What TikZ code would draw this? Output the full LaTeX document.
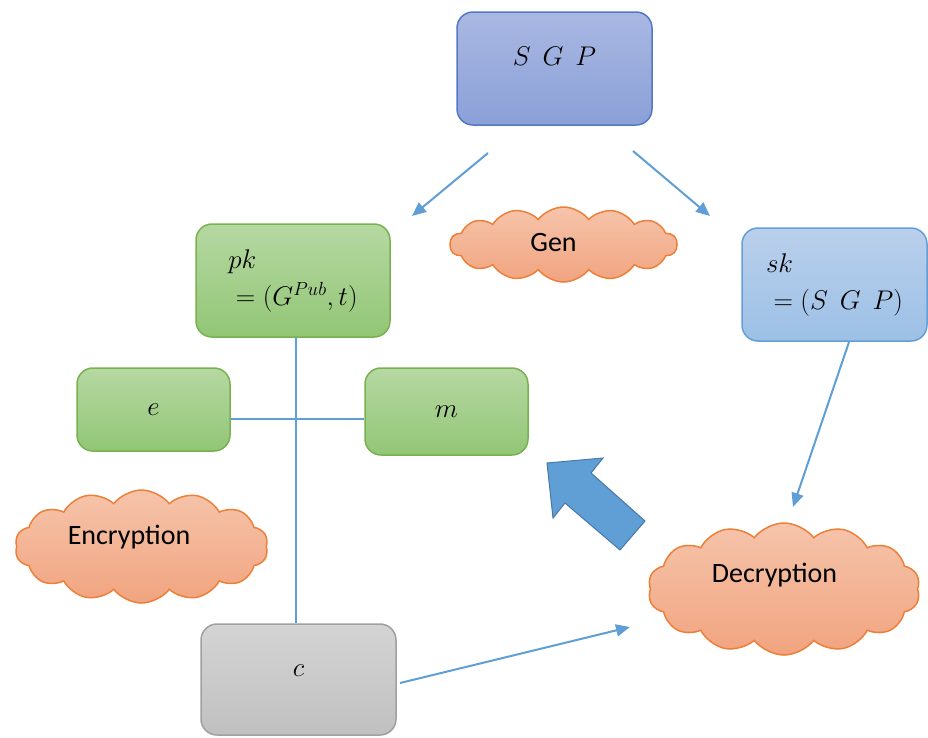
\documentclass[tikz,border=0pt]{standalone}
\usepackage{fix-cm}
\usepackage{fontspec}
\newfontfamily\calibri{Carlito}
\usepackage{tikz}
\usetikzlibrary{arrows.meta, shapes.symbols}
\definecolor{sgpline}{RGB}{84,120,196}
\definecolor{sgptop}{RGB}{170,184,226}
\definecolor{sgpbot}{RGB}{138,160,216}
\definecolor{greenline}{RGB}{120,178,80}
\definecolor{greentop}{RGB}{182,216,162}
\definecolor{greenbot}{RGB}{146,198,118}
\definecolor{skline}{RGB}{100,158,214}
\definecolor{sktop}{RGB}{186,208,236}
\definecolor{skbot}{RGB}{156,192,230}
\definecolor{grayline}{RGB}{160,160,160}
\definecolor{graytop}{RGB}{212,212,212}
\definecolor{graybot}{RGB}{192,192,192}
\definecolor{cloudline}{RGB}{237,128,56}
\definecolor{cloudtop}{RGB}{246,196,170}
\definecolor{cloudbot}{RGB}{241,164,128}
\definecolor{linkblue}{RGB}{96,158,214}
\definecolor{bigline}{RGB}{70,120,170}

\begin{document}
\begin{tikzpicture}[x=1pt,y=-1pt,>={Triangle[length=14pt,width=12pt]},
line width=1.5pt,
key node/.style={rectangle,rounded corners=16pt,draw,shading=axis,align=left,
font=\fontsize{27}{37}\selectfont},
sgp node/.style={key node,draw=sgpline,top color=sgptop,bottom color=sgpbot},
green node/.style={key node,draw=greenline,top color=greentop,bottom color=greenbot},
sk node/.style={key node,draw=skline,top color=sktop,bottom color=skbot},
gray node/.style={key node,draw=grayline,top color=graytop,bottom color=graybot},
cloud node/.style={cloud,cloud puffs=14,cloud puff arc=105,cloud ignores aspect,
draw=cloudline,shading=axis,top color=cloudtop,bottom color=cloudbot},
key text/.style={draw=none,font=\fontsize{27}{37}\selectfont},
cloud text/.style={draw=none,font=\calibri\fontsize{28}{34}\selectfont},
link/.style={draw=linkblue,line width=2pt}]
\useasboundingbox (0,0) rectangle (928,737);
\node[sgp node,minimum width=195pt,minimum height=113pt,
label={[key text,yshift=12pt]center:$S\:\:G\:\:P$}] (1) at (554.5, 68.5) {};
\node[green node,minimum width=194pt,minimum height=113pt] (2) at (293, 280.5) {$pk$\\${}=(G^{Pub},t)$};
\node[sk node,minimum width=185pt,minimum height=113pt] (3) at (834.5, 284.5) {$sk$\\${}=(S\:\:G\:\:P)$};
\node[green node,minimum width=153pt,minimum height=83pt] (4) at (153.5, 409.5) {$e$};
\node[green node,minimum width=163pt,minimum height=87pt] (5) at (446.5, 411.5) {$m$};
\node[gray node,minimum width=195pt,minimum height=111pt,
label={[key text,yshift=8.5pt]center:$c$}] (6) at (298.5, 679.5) {};
\node[cloud node,minimum width=227pt,minimum height=75pt,
label={[cloud text,xshift=-10pt,yshift=2pt]center:Gen}] (7) at (563.5, 244.5) {};
\node[cloud node,minimum width=253pt,minimum height=113pt,
label={[cloud text,xshift=-12.5pt,yshift=9.7pt]center:Encryption}] (8) at (141.5, 546.5) {};
\node[cloud node,minimum width=272pt,minimum height=132pt,
label={[cloud text,xshift=-9.5pt,yshift=13.7pt]center:Decryption}] (9) at (784, 589) {};
\coordinate (a1) at (488, 153);
\coordinate (b1) at (412, 216);
\coordinate (a2) at (633, 151);
\coordinate (b2) at (710, 216);
\coordinate (a3) at (849, 342);
\coordinate (b3) at (793, 507);
\coordinate (a4) at (400, 683);
\coordinate (b4) at (630, 627);
\draw[link,->] (a1) -- (b1);
\draw[link,->] (a2) -- (b2);
\draw[link,->] (a3) -- (b3);
\draw[link,->] (a4) -- (b4);
\draw[link] (2.south -| 296,0) -- (6.north -| 296,0);
\draw[link] (4.east |- 0,419) -- (5.west |- 0,419);
\draw[draw=bigline,fill=linkblue,line width=1pt] (547,463) -- (603,458) -- (591,473)
-- (645,521) -- (620,550) -- (565,503) -- (553,518) -- cycle;
\end{tikzpicture}
\end{document}
